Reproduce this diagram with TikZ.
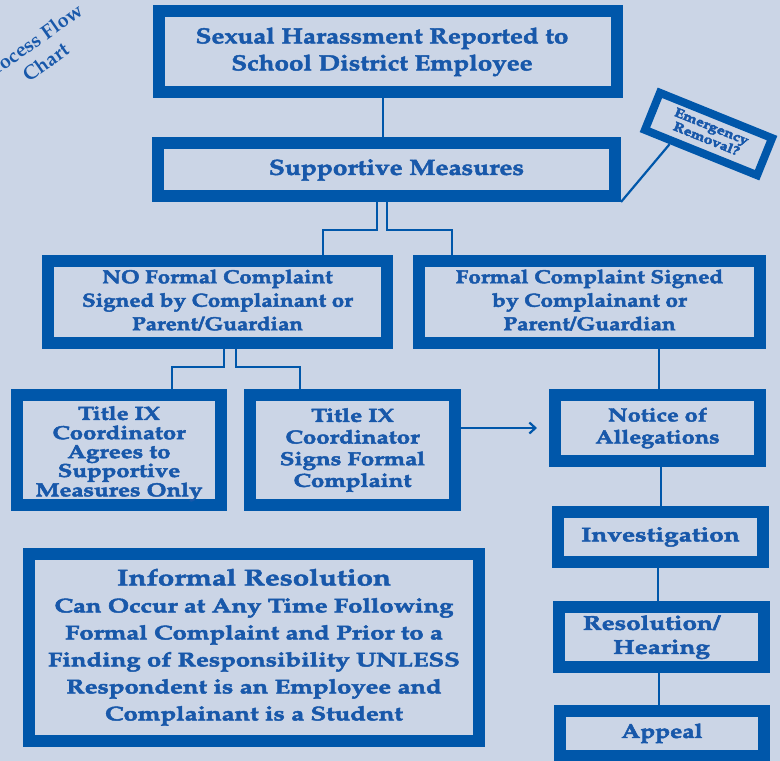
\documentclass[tikz,border=0pt]{standalone}
\usepackage[T1]{fontenc}
\renewcommand\rmdefault{ppl}
\usepackage{graphicx}
\usetikzlibrary{calc,arrows.meta}
\definecolor{bgc}{RGB}{203,213,230}
\definecolor{frm}{RGB}{0,87,170}
\definecolor{txt}{RGB}{24,88,170}
\newcommand{\fsz}[2]{\fontsize{#1}{#2}\selectfont}
% #1 size, #2 skip, #3 xscale, #4 lines
\newcommand{\bt}[4]{\scalebox{#3}[1]{\fsz{#1}{#2}\bfseries\special{pdf:literal direct 2 Tr 0.45 w}\begin{tabular}{@{}c@{}}#4\end{tabular}\special{pdf:literal direct 0 Tr}}}
\tikzset{
  box/.style={draw=frm, line width=12pt, fill=bgc, inner sep=0pt, align=center, text=txt},
  conn/.style={draw=frm, line width=2.2pt},
}
\begin{document}
\begin{tikzpicture}[x=1pt,y=-1pt]
\useasboundingbox (0,0) rectangle (780,761);
\clip (0,0) rectangle (780,761);
\fill[bgc] (0,0) rectangle (780,761);

% title in corner
\node[text=txt, font=\bfseries\fsz{20}{24}, align=center, rotate=35, inner sep=0pt] (ttl) at (38.5,52) {Process Flow\\Chart};

% boxes
\node[box, minimum width=458pt, minimum height=81pt] (top) at (388,51.5) {\bt{22}{27}{1.18}{Sexual Harassment Reported to\\School District Employee}\hspace*{12pt}};
\node[box, minimum width=457pt, minimum height=53pt] (supp) at (386.5,169.5) {\hspace*{20pt}\bt{22}{27}{1.19}{Supportive Measures}};
\node[box, line width=8pt, minimum width=121pt, minimum height=40pt, rotate=-22] (emer) at (708.5,134) {\bt{13}{13.5}{1.2}{Emergency\\Removal?}};
\node[box, minimum width=339pt, minimum height=82pt] (no) at (217.5,302) {\bt{19}{23.5}{1.18}{NO Formal Complaint\\Signed by Complainant or\\Parent/Guardian}};
\node[box, minimum width=341pt, minimum height=82pt] (formal) at (589.5,302) {\bt{19}{23.5}{1.19}{Formal Complaint Signed\\by Complainant or\\Parent/Guardian}};
\node[box, minimum width=204pt, minimum height=110pt] (t1) at (119,450) {\raisebox{-4pt}[\height][\depth]{\bt{19}{18.7}{1.26}{Title IX\\Coordinator\\Agrees to\\Supportive\\Measures Only}}};
\node[box, minimum width=205pt, minimum height=110pt] (t2) at (352.5,450) {\bt{19}{21.7}{1.27}{Title IX\\Coordinator\\Signs Formal\\Complaint}};
\node[box, minimum width=205pt, minimum height=66pt] (notice) at (657.5,428) {\bt{19}{22}{1.24}{Notice of\\Allegations}};
\node[box, minimum width=205pt, minimum height=50pt] (invest) at (660.5,537) {\bt{20}{22}{1.31}{Investigation}};
\node[box, minimum width=205pt, minimum height=60pt] (resol) at (661.5,637) {\bt{20}{24}{1.3}{Resolution/\hspace*{15pt}\\Hearing}};
\node[box, minimum width=204pt, minimum height=45pt] (appeal) at (662,733.5) {\bt{20}{22}{1.22}{Appeal}};
\node[box, minimum width=450pt, minimum height=187pt] (informal) at (254,647.5) {\bt{20}{27}{1.28}{{\fsz{23}{27}Informal Resolution}\\Can Occur at Any Time Following\\Formal Complaint and Prior to a\\Finding of Responsibility UNLESS\\Respondent is an Employee and\\Complainant is a Student}};

% connectors
\coordinate (c1) at (383,0);
\draw[conn] (c1 |- top.south) -- (c1 |- supp.north);
\coordinate (s1) at (377,230);
\coordinate (s2) at (387,230);
\draw[conn] (s1 |- supp.south) -- (s1) -| ([xshift=105.5pt]no.north);
\draw[conn] (s2 |- supp.south) -- (s2) -| ([xshift=-137.5pt]formal.north);
\coordinate (n1) at (224,367);
\coordinate (n2) at (236,367);
\draw[conn] (n1 |- no.south) -- (n1) -| ([xshift=53pt]t1.north);
\draw[conn] (n2 |- no.south) -- (n2) -| ([xshift=-52.5pt]t2.north);
\draw[conn] (supp.south east) -- ($(emer.south)!0.5!(emer.south west)$);
\coordinate (c2) at (659,0);
\draw[conn] (c2 |- formal.south) -- (c2 |- notice.north);
\coordinate (c3) at (661,0);
\draw[conn] (c3 |- notice.south) -- (c3 |- invest.north);
\coordinate (c4) at (658,0);
\draw[conn] (c4 |- invest.south) -- (c4 |- resol.north);
\coordinate (c5) at (659,0);
\draw[conn] (c5 |- resol.south) -- (c5 |- appeal.north);
\coordinate (aend) at (537,428);
\draw[conn, -{Straight Barb[length=6pt,width=11pt]}] ([yshift=22pt]t2.east) -- (aend);
\end{tikzpicture}
\end{document}
